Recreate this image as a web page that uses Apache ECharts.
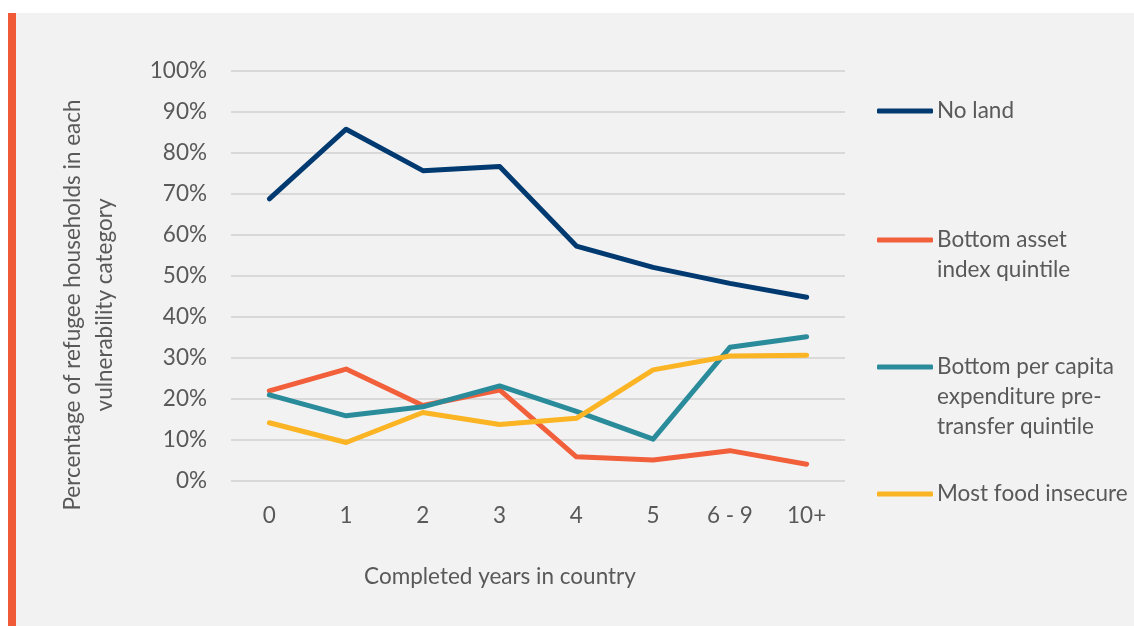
<!DOCTYPE html>
<html>
<head>
<meta charset="utf-8">
<script src="https://cdn.jsdelivr.net/npm/echarts@6/dist/echarts.min.js"></script>
<style>
html,body{margin:0;padding:0;background:#ffffff;width:1134px;height:626px;overflow:hidden;}
#panel{position:absolute;left:8px;top:13px;width:1126px;height:613px;background:#f2f2f2;}
#bar{position:absolute;left:8px;top:13px;width:8px;height:613px;background:#f15a37;}
#chart{position:absolute;left:0;top:0;width:1134px;height:626px;}
</style>
</head>
<body>
<div id="panel"></div>
<div id="bar"></div>
<div id="chart"></div>
<script>
const categories = ['0', '1', '2', '3', '4', '5', '6 - 9', '10+'];
const noLand = [68.8, 85.8, 75.7, 76.7, 57.3, 52.1, 48.2, 44.8];
const bottomAsset = [22.0, 27.3, 18.4, 22.2, 5.9, 5.1, 7.4, 4.1];
const bottomExpenditure = [21.0, 15.9, 18.1, 23.2, 17.0, 10.2, 32.6, 35.2];
const mostFoodInsecure = [14.2, 9.4, 16.7, 13.8, 15.3, 27.1, 30.5, 30.7];
const yTicks = [0, 10, 20, 30, 40, 50, 60, 70, 80, 90, 100];

const seriesNames = ['No land', 'Bottom asset index quintile', 'Bottom per capita expenditure pre-transfer quintile', 'Most food insecure'];
const legendLabels = {
  'No land': 'No land',
  'Bottom asset index quintile': '\nBottom asset\nindex quintile',
  'Bottom per capita expenditure pre-transfer quintile': '\n\nBottom per capita\nexpenditure pre-\ntransfer quintile',
  'Most food insecure': 'Most food insecure'
};
const colors = ['#003a70', '#f15f3b', '#2a8c9b', '#fbb423'];
const FONT = 'Lato';
const FS = 22.5;
const TXT = '#595959';

const chart = echarts.init(document.getElementById('chart'));

function legendAt(name, top) {
  return {
    data: [name],
    left: 877,
    top: top,
    orient: 'vertical',
    icon: 'roundRect',
    itemWidth: 56,
    itemHeight: 5,
    itemGap: 0,
    padding: 0,
    selectedMode: false,
    formatter: n => legendLabels[n],
    textStyle: { fontFamily: FONT, fontSize: FS, color: TXT, lineHeight: 30, padding: [0, 0, 0, -1] }
  };
}

chart.setOption({
  animation: false,
  backgroundColor: 'transparent',
  color: colors,
  grid: { left: 231, top: 71, width: 614, height: 410, containLabel: false },
  legend: [
    legendAt(seriesNames[0], 96),
    legendAt(seriesNames[1], 195),
    legendAt(seriesNames[2], 292),
    legendAt(seriesNames[3], 479)
  ],
  xAxis: {
    type: 'category',
    data: categories,
    boundaryGap: true,
    axisLine: { show: false },
    axisTick: { show: false },
    axisLabel: { fontFamily: FONT, fontSize: FS, color: TXT, margin: 23 },
    name: 'Completed years in country',
    nameLocation: 'middle',
    nameGap: 84,
    nameTextStyle: { fontFamily: FONT, fontSize: FS, color: TXT, padding: [0, 76, 0, 0] }
  },
  yAxis: {
    type: 'value',
    min: 0,
    max: 100,
    interval: 10,
    axisLine: { show: false },
    axisTick: { show: false },
    splitLine: { lineStyle: { color: '#d9d9d9', width: 2 } },
    axisLabel: { fontFamily: FONT, fontSize: FS, color: TXT, margin: 24, formatter: v => yTicks.includes(v) ? v + '%' : '' },
    name: 'Percentage of refugee households in each\nvulnerability category',
    nameLocation: 'middle',
    nameGap: 110,
    nameTextStyle: { fontFamily: FONT, fontSize: FS, color: TXT, lineHeight: 32, align: 'center', padding: [0, 58, 0, 0] }
  },
  series: [
    { name: seriesNames[0], type: 'line', data: noLand },
    { name: seriesNames[1], type: 'line', data: bottomAsset },
    { name: seriesNames[2], type: 'line', data: bottomExpenditure },
    { name: seriesNames[3], type: 'line', data: mostFoodInsecure }
  ].map((s, i) => Object.assign(s, {
    symbol: 'none',
    lineStyle: { width: 5, cap: 'round', join: 'round', color: colors[i] },
    itemStyle: { color: colors[i] }
  }))
});
</script>
</body>
</html>
